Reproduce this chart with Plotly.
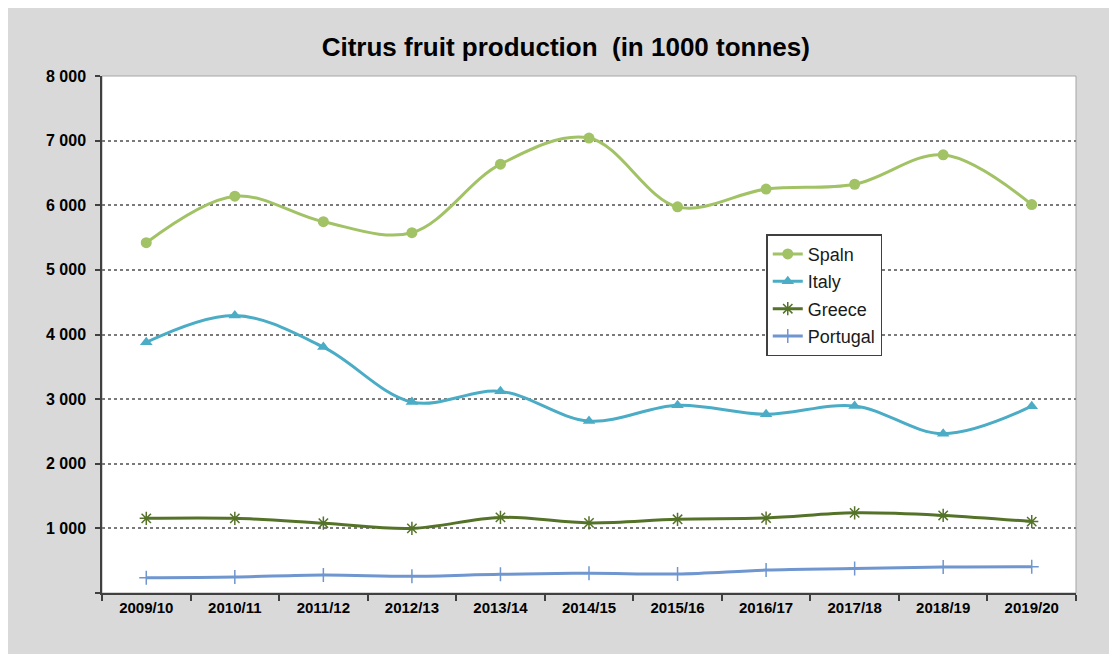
import plotly.graph_objects as go

# values (1000 tonnes)
seasons = ['2009/10', '2010/11', '2011/12', '2012/13', '2013/14', '2014/15',
           '2015/16', '2016/17', '2017/18', '2018/19', '2019/20']
spain = [5420, 6140, 5745, 5575, 6635, 7040, 5975, 6250, 6325, 6780, 6010]
italy = [3880, 4295, 3805, 2955, 3120, 2660, 2905, 2765, 2895, 2465, 2890]
greece = [1155, 1155, 1080, 1000, 1170, 1085, 1140, 1160, 1240, 1200, 1105]
portugal = [235, 247, 278, 258, 290, 305, 295, 355, 378, 402, 407]

y_ticks = [0, 1000, 2000, 3000, 4000, 5000, 6000, 7000, 8000]
y_labels = ['', '1 000', '2 000', '3 000', '4 000', '5 000', '6 000', '7 000', '8 000']

fnt = 'Liberation Sans, Arial, sans-serif'

fig = go.Figure()
series = [
    ('Spaln', spain, '#a2c266', dict(symbol='circle', size=11)),
    ('Italy', italy, '#4bacc6', dict(symbol='triangle-up', size=11)),
    ('Greece', greece, '#557229', dict(symbol='asterisk-open', size=11, line=dict(width=1.5, color='#6f8f3a'))),
    ('Portugal', portugal, '#6f96cf', dict(symbol='cross-thin-open', size=10, line=dict(width=1.5, color='#6f96cf'))),
]
for name, vals, col, mk in series:
    mk = dict(mk)
    mk.setdefault('color', col)
    fig.add_trace(go.Scatter(
        x=seasons, y=vals, name=name, mode='lines+markers',
        line=dict(color=col, width=3, shape='spline', smoothing=1),
        marker=mk, legendgroup=name
    ))

# page body adds an 8px offset, so the figure is 8px smaller than the window
fig.update_layout(
    width=1109, height=650,
    margin=dict(l=94, r=41, t=68, b=65),
    paper_bgcolor='white', plot_bgcolor='rgba(0,0,0,0)',
    font=dict(family=fnt, color='#000000'),
    title=dict(text='<b>Citrus fruit production  (in 1000 tonnes)</b>',
               x=0.503, xanchor='center', y=0.94, yanchor='middle',
               font=dict(size=26, family=fnt, color='#000000')),
    showlegend=True,
    legend=dict(x=0.682, y=0.694, xanchor='left', yanchor='top',
                bgcolor='white', bordercolor='#404040', borderwidth=1.5,
                font=dict(size=18, family=fnt, color='#1a1a1a'),
                traceorder='grouped', tracegroupgap=1),
    shapes=[
        dict(type='rect', xref='paper', yref='paper', x0=-0.2, x1=1.1, y0=-0.118, y1=1.2,
             fillcolor='#d9d9d9', line=dict(width=0), layer='below'),
        dict(type='rect', xref='paper', yref='paper', x0=0, x1=1, y0=0, y1=1,
             fillcolor='white', line=dict(width=1, color='#a6a6a6'), layer='below'),
    ],
)
fig.update_xaxes(
    type='category', range=[-0.5, 10.5],
    showline=True, linecolor='#404040', linewidth=1.5,
    ticks='outside', tickson='boundaries', ticklen=6, tickcolor='#404040', tickwidth=1.5,
    showgrid=False,
    tickfont=dict(size=15, family=fnt, color='#000000', weight='bold'),
)
fig.update_yaxes(
    range=[0, 8000], tickvals=y_ticks, ticktext=y_labels,
    showline=True, linecolor='#404040', linewidth=1.5,
    ticks='outside', ticklen=5, tickcolor='#404040', tickwidth=1.5,
    ticklabelstandoff=6,
    showgrid=True, gridcolor='#7a7a7a', gridwidth=1.8, griddash='dot',
    zeroline=False,
    tickfont=dict(size=16, family=fnt, color='#000000', weight='bold'),
)

fig.write_html('out.html')
